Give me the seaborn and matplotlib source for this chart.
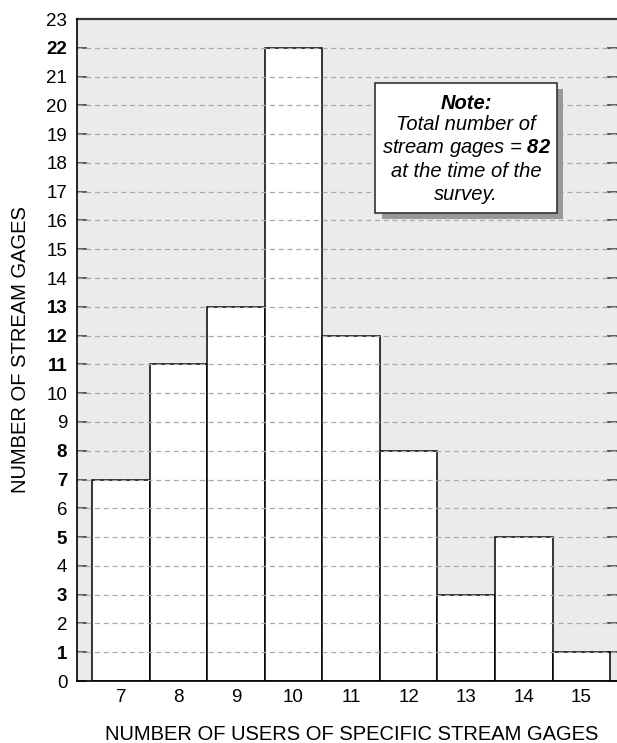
import matplotlib
matplotlib.use("Agg")
import matplotlib.pyplot as plt
from matplotlib.patches import Rectangle
import seaborn as sns
import pandas as pd

users = ["7", "8", "9", "10", "11", "12", "13", "14", "15"]
gages = [7, 11, 13, 22, 12, 8, 3, 5, 1]
y_ticks = list(range(0, 24))

sns.set_theme(style="white")
plt.rcParams['font.family'] = ['Liberation Sans', 'DejaVu Sans']
plt.rcParams['mathtext.fontset'] = 'custom'
plt.rcParams['mathtext.bf'] = 'Liberation Sans:italic:bold'
plt.rcParams['mathtext.it'] = 'Liberation Sans:italic'
plt.rcParams['mathtext.rm'] = 'Liberation Sans:italic'

df = pd.DataFrame({"users": users, "gages": gages})

fig = plt.figure(figsize=(6.17, 7.43), dpi=100)
ax = fig.add_axes([77/617, 62/743, 540/617, 662/743])
ax.set_facecolor("#ebebeb")

sns.barplot(data=df, x="users", y="gages", order=users, color="white",
            width=1.0, edgecolor="black", linewidth=1.1, saturation=1,
            ax=ax, zorder=1)

ax.set_xlim(-0.76, 8.62)
ax.set_ylim(0, 23)
ax.set_yticks(y_ticks)
ax.set_yticklabels([str(v) for v in y_ticks])
for lbl, v in zip(ax.get_yticklabels(), y_ticks):
    if v in gages:
        lbl.set_fontweight("bold")
    lbl.set_fontsize(13.5)
    lbl.set_color("black")
for lbl in ax.get_xticklabels():
    lbl.set_fontsize(13.5)
    lbl.set_color("black")

for v in y_ticks[1:-1]:
    ax.axhline(v, color="#aaaaaa", linestyle=(0, (4, 3)), linewidth=0.9, zorder=2)

ax.tick_params(axis="y", which="both", direction="in", length=7, width=1.1,
               color="#333333", left=True, right=True, pad=7, labelleft=True)
ax.tick_params(axis="x", length=0, pad=6)

for s in ["left", "bottom"]:
    ax.spines[s].set_color("black")
    ax.spines[s].set_linewidth(1.2)
    ax.spines[s].set_zorder(5)
ax.spines["top"].set_color("#333333")
ax.spines["top"].set_linewidth(1.6)
ax.spines["right"].set_visible(False)

ax.set_xlabel("NUMBER OF USERS OF SPECIFIC STREAM GAGES", fontsize=14.5,
              color="black")
ax.xaxis.set_label_coords(0.509, -53/662)
ax.xaxis.label.set_va("center")
ax.set_ylabel("NUMBER OF STREAM GAGES", fontsize=14.5, color="black", labelpad=12)

# note box with shadow
bx0, bx1 = 4.42, 7.58
by0, by1 = 16.26, 20.78
ax.add_patch(Rectangle((bx0 + 0.11, by0 - 0.2), bx1 - bx0, by1 - by0,
                       facecolor="#999999", edgecolor="none", zorder=6))
ax.add_patch(Rectangle((bx0, by0), bx1 - bx0, by1 - by0,
                       facecolor="white", edgecolor="#333333", linewidth=1.2, zorder=7))
cx = (bx0 + bx1) / 2
lines = ["Note:", "Total number of", "stream gages = $\\mathbf{82}$",
         "at the time of the", "survey."]
ys = [20.06, 19.33, 18.51, 17.71, 16.91]
for i, (t, y) in enumerate(zip(lines, ys)):
    ax.text(cx, y, t, ha="center", va="center", fontsize=14.5, style="italic",
            fontweight="bold" if i == 0 else "normal", color="black", zorder=8)

fig.savefig("out.png", dpi=100)
